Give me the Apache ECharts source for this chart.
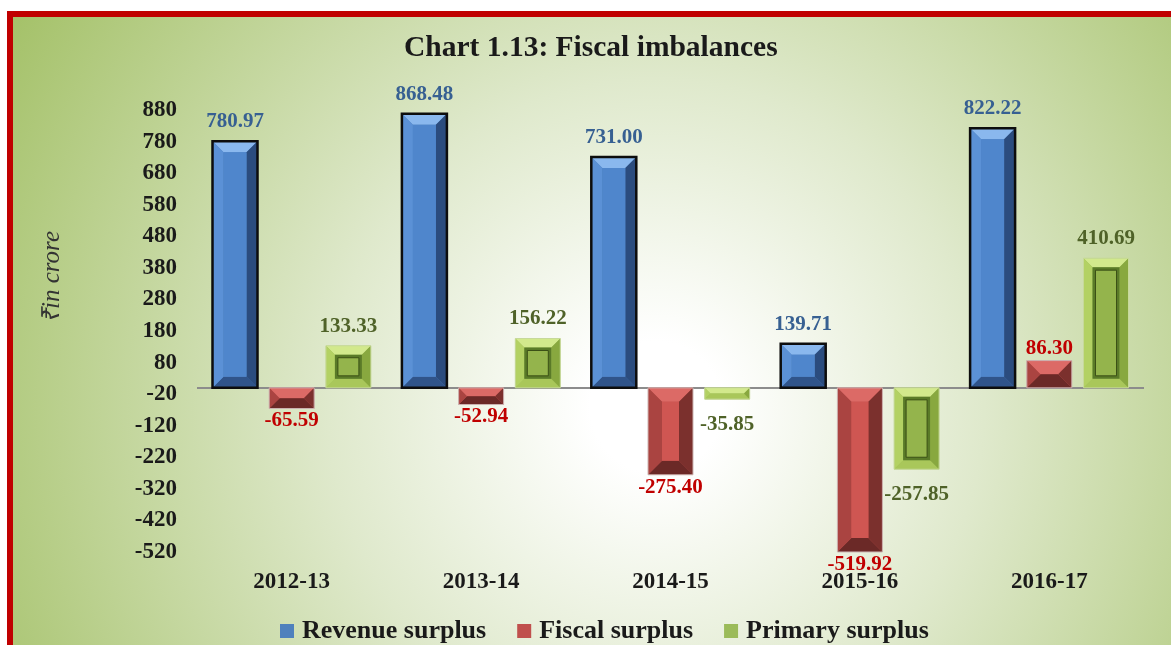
<!DOCTYPE html>
<html>
<head>
<meta charset="utf-8">
<script src="https://cdn.jsdelivr.net/npm/echarts@6/dist/echarts.min.js"></script>
<style>
html,body{margin:0;padding:0;width:1171px;height:645px;overflow:hidden;background:#fff;}
#frame{position:absolute;left:7px;top:11px;width:1200px;height:700px;border:6px solid #c00000;
  background:radial-gradient(circle 820px at 643px 390px,#ffffff 0%,#ffffff 8%,#dfe9cc 40%,#9bbb59 100%);}
#chart{position:absolute;left:0;top:0;width:1171px;height:645px;}
</style>
</head>
<body>
<div id="frame"></div>
<div id="chart"></div>
<script>
const categories = ['2012-13','2013-14','2014-15','2015-16','2016-17'];
const revenueSurplus = [780.97, 868.48, 731.00, 139.71, 822.22];
const fiscalSurplus = [-65.59, -52.94, -275.40, -519.92, 86.30];
const primarySurplus = [133.33, 156.22, -35.85, -257.85, 410.69];
const seriesNames = ['Revenue surplus','Fiscal surplus','Primary surplus'];

const FONT = "'Liberation Serif','Times New Roman',serif";
const BAR_W = 45;
const BAR_GAP = 0.26;

const facets = [
  {face:'#4f86cc', top:'#8ab8ee', left:'#5b91d6', right:'#2b4c7e', bottom:'#30548a', border:'#0d0d0d', bw:2.5, bevel:11},
  {face:'#cf5652', top:'#dc6a66', left:'#aa4441', right:'#7b302d', bottom:'#6b2927', border:'#cdb4b2', bw:1, bevel:14},
  {face:'#5a7a28', top:'#d2e98c', left:'#b3d163', right:'#88a83f', bottom:'#a9c75a', border:'#c7d99a', bw:1, bevel:9, inner:'#94b44c', innerStroke:'#3b5016'}
];

function bevelRender(si){
  return function(params, api){
    const cat = api.value(0), v = api.value(1);
    const p = api.coord([cat, v]);
    const p0 = api.coord([cat, 0]);
    const W = BAR_W, G = W*BAR_GAP;
    const groupW = 3*W + 2*G;
    const x0 = p[0] - groupW/2 + si*(W+G);
    const x1 = x0 + W;
    const yt = Math.min(p[1], p0[1]), yb = Math.max(p[1], p0[1]);
    const h = yb - yt;
    const f = facets[si];
    const b = Math.min(f.bevel, h/2, W/2);
    const ix0 = x0+b, ix1 = x1-b, iy0 = yt+b, iy1 = yb-b;
    const children = [
      {type:'polygon', shape:{points:[[x0,yt],[x1,yt],[ix1,iy0],[ix0,iy0]]}, style:{fill:f.top}},
      {type:'polygon', shape:{points:[[x0,yb],[x1,yb],[ix1,iy1],[ix0,iy1]]}, style:{fill:f.bottom}},
      {type:'polygon', shape:{points:[[x0,yt],[ix0,iy0],[ix0,iy1],[x0,yb]]}, style:{fill:f.left}},
      {type:'polygon', shape:{points:[[x1,yt],[ix1,iy0],[ix1,iy1],[x1,yb]]}, style:{fill:f.right}},
      {type:'rect', shape:{x:ix0, y:iy0, width:Math.max(0,ix1-ix0), height:Math.max(0,iy1-iy0)}, style:{fill:f.face}}
    ];
    if (f.inner && (iy1-iy0) > 6) {
      children.push({type:'rect', shape:{x:ix0+3, y:iy0+3, width:Math.max(0,ix1-ix0-6), height:Math.max(0,iy1-iy0-6)}, style:{fill:f.inner, stroke:f.innerStroke, lineWidth:1}});
    }
    children.push({type:'rect', shape:{x:x0, y:yt, width:W, height:h}, style:{fill:'none', stroke:f.border, lineWidth:f.bw}});
    return {type:'group', children};
  };
}

const dataSets = [revenueSurplus, fiscalSurplus, primarySurplus];
const labelColors = ['#376092','#c00000','#4f6228'];
const baseColors = ['#4f81bd','#c0504d','#9bbb59'];
// label distance per series: [positive, negative]
const labelDist = [[9, 9], [2, 2], [9, 15]];

const series = [];
dataSets.forEach((d, i) => {
  const s = {
    name: seriesNames[i],
    type: 'bar',
    data: d.map(v => ({value: v, label: {distance: v >= 0 ? labelDist[i][0] : labelDist[i][1]}})),
    barWidth: BAR_W,
    barGap: (BAR_GAP*100)+'%',
    itemStyle: {color: baseColors[i]},
    label: {show:true, position:'outside',
      formatter: p => p.value.toFixed(2),
      color: labelColors[i], fontFamily: FONT, fontWeight:'bold', fontSize:21},
    z: 2
  };
  if (i === 0) {
    s.markLine = {silent:true, symbol:['none','none'], label:{show:false},
      lineStyle:{color:'#8c8c8c', width:2, type:'solid'}, data:[{yAxis:0}], z:1};
  }
  series.push(s);
});
dataSets.forEach((d, i) => {
  series.push({
    name: seriesNames[i],
    type: 'custom',
    renderItem: bevelRender(i),
    data: d.map((v, k) => [k, v]),
    silent: true,
    z: 3,
    tooltip:{show:false}
  });
});

const chart = echarts.init(document.getElementById('chart'));
chart.setOption({
  backgroundColor: 'transparent',
  animation: false,
  title: {
    text: 'Chart 1.13: Fiscal imbalances',
    left: 399, top: 28,
    textStyle: {fontFamily: FONT, fontWeight: 'bold', fontSize: 29.5, color: '#1a1a1a'}
  },
  legend: {
    data: seriesNames,
    top: 613, left: 275,
    itemWidth: 14, itemHeight: 14, itemGap: 31,
    icon: 'rect',
    textStyle: {fontFamily: FONT, fontWeight: 'bold', fontSize: 26, color: '#1a1a1a', padding:[0,0,0,3]}
  },
  grid: {left: 197, right: 27, top: 110, bottom: 93, containLabel: false},
  xAxis: {
    type: 'category',
    data: categories,
    axisLine: {show: false},
    axisTick: {show: false},
    axisLabel: {fontFamily: FONT, fontWeight: 'bold', fontSize: 23, color: '#1a1a1a', margin: 19}
  },
  yAxis: {
    type: 'value',
    min: -520, max: 880, interval: 100,
    axisLine: {show: false},
    axisTick: {show: false},
    splitLine: {show: false},
    axisLabel: {fontFamily: FONT, fontWeight: 'bold', fontSize: 23, color: '#1a1a1a', margin: 20}
  },
  graphic: [{
    type: 'text', x: 52, y: 277, rotation: Math.PI/2,
    style: {text: '₹in crore', fontFamily: FONT, fontStyle: 'italic', fontSize: 25, fill: '#333',
      align: 'center', verticalAlign: 'middle'}
  }],
  series: series
});
</script>
</body>
</html>
